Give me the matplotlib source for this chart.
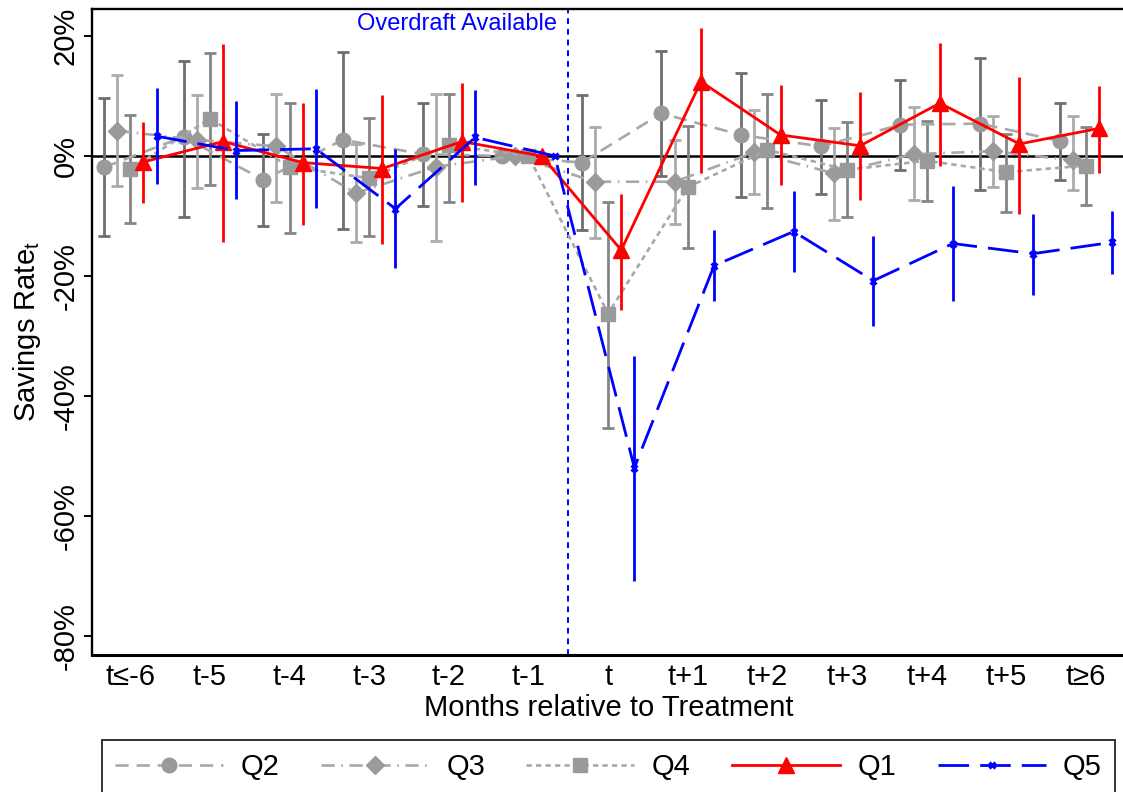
import matplotlib
matplotlib.use("Agg")
import matplotlib.pyplot as plt
import numpy as np

plt.rcParams['font.family'] = ['Liberation Sans', 'DejaVu Sans']
plt.rcParams['mathtext.default'] = 'regular'

months = ["t≤-6", "t-5", "t-4", "t-3", "t-2", "t-1", "t",
          "t+1", "t+2", "t+3", "t+4", "t+5", "t≥6"]
nan = np.nan

# point estimates and confidence bounds, in percent
q2_pt = [-1.9, 3.2, -4.0, 2.7, 0.3, 0, -1.1, 7.1, 3.5, 1.6, 5.2, 5.4, 2.5]
q2_hi = [9.7, 15.8, 3.6, 17.3, 8.8, nan, 10.2, 17.5, 13.9, 9.4, 12.6, 16.4, 8.9]
q2_lo = [-13.4, -10.1, -11.6, -12.1, -8.4, nan, -12.3, -3.3, -6.9, -6.4, -2.4, -5.6, -4.0]

q3_pt = [4.2, 2.7, 1.6, -6.2, -1.8, 0, -4.3, -4.3, 0.6, -2.9, 0.3, 0.8, -0.7]
q3_hi = [13.5, 10.2, 10.4, 2.0, 10.3, nan, 4.9, 2.7, 7.7, 4.6, 8.1, 6.6, 6.6]
q3_lo = [-5.0, -5.3, -7.6, -14.4, -14.2, nan, -13.6, -11.3, -6.3, -10.7, -7.4, -5.1, -5.7]

q4_pt = [-2.2, 6.2, -1.8, -3.7, 1.8, 0, -26.3, -5.2, 1.0, -2.3, -0.8, -2.7, -1.6]
q4_hi = [6.9, 17.1, 8.9, 6.4, 10.3, nan, -7.6, 5.0, 10.4, 5.6, 5.9, 3.6, 4.9]
q4_lo = [-11.2, -4.9, -12.8, -13.3, -7.6, nan, -45.3, -15.3, -8.6, -10.2, -7.5, -9.3, -8.2]

q1_pt = [-1.0, 2.4, -1.1, -2.1, 2.4, 0, -15.7, 12.4, 3.5, 1.7, 8.8, 2.0, 4.6]
q1_hi = [5.7, 18.7, 8.9, 10.2, 12.1, nan, -6.4, 21.4, 11.8, 10.6, 18.9, 13.1, 11.7]
q1_lo = [-7.9, -14.3, -11.5, -14.6, -7.6, nan, -25.6, -2.8, -4.9, -7.3, -1.6, -9.7, -2.8]

q5_pt = [3.3, 0.9, 1.2, -8.8, 3.1, 0, -52.0, -18.3, -12.6, -20.8, -14.6, -16.3, -14.4]
q5_hi = [11.3, 9.2, 11.1, 1.2, 11.0, nan, -33.4, -12.3, -5.9, -13.4, -5.0, -9.7, -9.1]
q5_lo = [-4.7, -7.2, -8.6, -18.7, -4.9, nan, -70.8, -24.2, -19.4, -28.3, -24.2, -23.1, -19.7]

x = np.arange(len(months))

fig = plt.figure(figsize=(11.23, 7.92), dpi=100)
ax = fig.add_axes([92/1123, 137/792, 1033/1123, 646/792])

ax.axhline(0, color="black", lw=1.8, zorder=1.5)
ax.axvline(5.5, color="blue", lw=1.4, linestyle=(0, (3, 2.5)), zorder=1.4)
ax.text(5.36, 22, "Overdraft Available", color="blue", fontsize=17,
        ha="right", va="center")

gray_mk = "#9a9a9a"
series = [
    # label, pt, lo, hi, offset, marker, ms, line color, dashes, err color
    ("Q2", q2_pt, q2_lo, q2_hi, -0.33, "o", 10.5, "#a8a8a8", (5, 3), "#6e6e6e"),
    ("Q3", q3_pt, q3_lo, q3_hi, -0.165, "D", 9.5, "#a8a8a8", (5, 2.5, 0.6, 2.5), "#ababab"),
    ("Q4", q4_pt, q4_lo, q4_hi, 0.0, "s", 10, "#a8a8a8", (2, 1.6), "#858585"),
]
handles = {}
for lab, pt, lo, hi, off, mk, ms, lc, ds, ec in series:
    pt = np.array(pt); lo = np.array(lo); hi = np.array(hi)
    ax.errorbar(x + off, pt, yerr=[pt - lo, hi - pt], fmt="none", ecolor=ec,
                elinewidth=2.0, capsize=4.5, capthick=2.0, zorder=2)
    h, = ax.plot(x + off, pt, color=lc, lw=1.9, dashes=ds, marker=mk, ms=ms,
                 mfc=gray_mk, mec=gray_mk, zorder=3, label=lab)
    handles[lab] = h

# Q1 red
pt = np.array(q1_pt); lo = np.array(q1_lo); hi = np.array(q1_hi)
ax.errorbar(x + 0.165, pt, yerr=[pt - lo, hi - pt], fmt="none", ecolor="red",
            elinewidth=2.0, capsize=0, zorder=4)
h, = ax.plot(x + 0.165, pt, color="red", lw=2.0, marker="^", ms=12,
             mfc="red", mec="red", zorder=4, label="Q1")
handles["Q1"] = h

# Q5 blue
pt = np.array(q5_pt); lo = np.array(q5_lo); hi = np.array(q5_hi)
ax.errorbar(x + 0.33, pt, yerr=[pt - lo, hi - pt], fmt="none", ecolor="blue",
            elinewidth=2.0, capsize=0, zorder=5)
h, = ax.plot(x + 0.33, pt, color="blue", lw=2.0, dashes=(11, 4), marker="x",
             ms=5, mew=2.2, mec="blue", zorder=5, label="Q5")
handles["Q5"] = h

ax.set_xlim(-0.48, 12.49)
ax.set_ylim(-83.2, 24.5)
ax.set_xticks(x)
ax.set_xticklabels(months, fontsize=21)
ax.tick_params(axis="x", length=0, pad=6)
ax.set_yticks([-80, -60, -40, -20, 0, 20])
ax.set_yticklabels(["-80%", "-60%", "-40%", "-20%", "0%", "20%"], fontsize=21,
                   rotation=90, va="center")
ax.tick_params(axis="y", length=6, width=1.4, pad=3)
ax.set_xlabel("Months relative to Treatment", fontsize=21, labelpad=2)
ax.set_ylabel("Savings Rate$_\\mathregular{t}$", fontsize=21, labelpad=6)
for s in ["left", "top", "bottom"]:
    ax.spines[s].set_linewidth(1.7)
ax.spines["bottom"].set_linewidth(2.2)
ax.spines["right"].set_visible(False)

order = ["Q2", "Q3", "Q4", "Q1", "Q5"]
leg = fig.legend([handles[k] for k in order], order, ncol=5, fontsize=21,
                 loc="upper left", bbox_to_anchor=(102/1123, 1 - 740/792, 1013/1123, 0.0),
                 mode="expand", borderaxespad=0, handlelength=3.7, handletextpad=0.6,
                 columnspacing=1.5, borderpad=0.45, fancybox=False, frameon=True)
leg.get_frame().set_edgecolor("black")
leg.get_frame().set_linewidth(1.4)

fig.savefig("out.png", dpi=100)
